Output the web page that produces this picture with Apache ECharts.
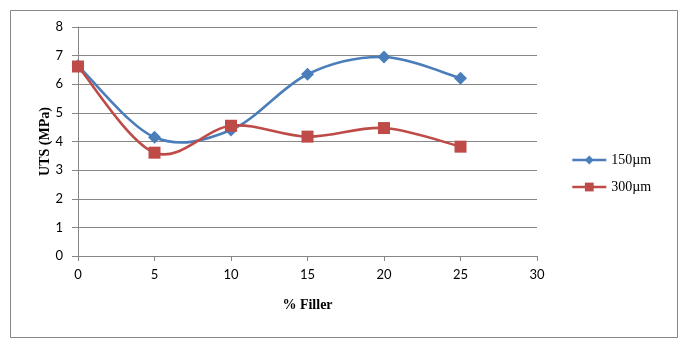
<!DOCTYPE html>
<html><head><meta charset="utf-8">
<script src="https://cdn.jsdelivr.net/npm/echarts@6/dist/echarts.min.js"></script>
<style>html,body{margin:0;padding:0;background:#fff}#c{width:681px;height:342px}</style>
</head><body><div id="c"></div>
<script>
var xValues = [0, 5, 10, 15, 20, 25];
var series150 = [6.65, 4.15, 4.4, 6.35, 6.95, 6.21];
var series300 = [6.62, 3.61, 4.55, 4.17, 4.47, 3.82];
var seriesNames = ['150µm', '300µm'];
var colors = ['#4A7EBB', '#BE4B48'];
var chart = echarts.init(document.getElementById('c'));
function pairs(v){ return xValues.map(function(x,i){return [x, v[i]];}); }
var tickFont = {fontFamily:'Lato, "Open Sans", sans-serif', fontSize:13, color:'#000'};
var gridColor = '#868686';

// Excel-like smoothed curve: cubic Bezier per segment (Catmull-Rom tangents)
function smoothRenderer(color){
  return function(params, api){
    var n = params.dataInsideLength;
    var i = params.dataIndexInside;
    if (i >= n - 1) return null;
    function pt(j){
      j = Math.max(0, Math.min(n - 1, j));
      return api.coord([api.value(0, j), api.value(1, j)]);
    }
    var p0 = pt(i - 1), p1 = pt(i), p2 = pt(i + 1), p3 = pt(i + 2);
    var t = 1 / 6;
    var c1 = [p1[0] + (p2[0] - p0[0]) * t, p1[1] + (p2[1] - p0[1]) * t];
    var c2 = [p2[0] - (p3[0] - p1[0]) * t, p2[1] - (p3[1] - p1[1]) * t];
    return {
      type:'bezierCurve',
      shape:{x1:p1[0], y1:p1[1], x2:p2[0], y2:p2[1], cpx1:c1[0], cpy1:c1[1], cpx2:c2[0], cpy2:c2[1]},
      style:{stroke:color, lineWidth:2.6, fill:null, lineCap:'round'},
      silent:true
    };
  };
}

chart.setOption({
  animation:false,
  backgroundColor:'#fff',
  graphic:[{type:'rect', left:8, top:8, shape:{width:667, height:327}, style:{fill:'none', stroke:'#868686', lineWidth:1}, silent:true}],
  grid:{left:78, right:144, top:27, bottom:86},
  legend:{
    orient:'vertical', left:566, top:148, itemGap:13, itemWidth:34, itemHeight:11,
    textStyle:{fontFamily:'"Liberation Serif", "Times New Roman", serif', fontSize:14, color:'#000'},
    data:[
      {name:seriesNames[0], lineStyle:{opacity:1, width:2.6, color:colors[0]}},
      {name:seriesNames[1], lineStyle:{opacity:1, width:2.6, color:colors[1]}}
    ]
  },
  xAxis:{
    type:'value', min:0, max:30, interval:5,
    name:'% Filler', nameLocation:'middle', nameGap:42, nameMoveOverlap:false,
    nameTextStyle:{fontFamily:'"Liberation Serif", serif', fontWeight:'bold', fontSize:14, color:'#000'},
    axisLine:{lineStyle:{color:gridColor}},
    axisTick:{show:true, length:5, lineStyle:{color:gridColor}},
    axisLabel:Object.assign({margin:12}, tickFont),
    splitLine:{show:false}
  },
  yAxis:{
    type:'value', min:0, max:8, interval:1,
    name:'UTS (MPa)', nameLocation:'middle', nameGap:26, nameRotate:90, nameMoveOverlap:false,
    nameTextStyle:{fontFamily:'"Liberation Serif", serif', fontWeight:'bold', fontSize:14, color:'#000'},
    axisLine:{show:true, lineStyle:{color:gridColor}},
    axisTick:{show:true, length:6, lineStyle:{color:gridColor}},
    axisLabel:Object.assign({margin:15}, tickFont),
    splitLine:{lineStyle:{color:gridColor}}
  },
  series:[
    {name:seriesNames[0]+'_curve', type:'custom', renderItem:smoothRenderer(colors[0]), data:pairs(series150), z:2, clip:false},
    {name:seriesNames[1]+'_curve', type:'custom', renderItem:smoothRenderer(colors[1]), data:pairs(series300), z:3, clip:false},
    {name:seriesNames[0], type:'line', data:pairs(series150), symbol:'diamond', symbolSize:13, z:4,
     lineStyle:{color:colors[0], width:0, opacity:0}, itemStyle:{color:colors[0]}},
    {name:seriesNames[1], type:'line', data:pairs(series300), symbol:'rect', symbolSize:12, z:5,
     lineStyle:{color:colors[1], width:0, opacity:0}, itemStyle:{color:colors[1]}}
  ]
});
</script></body></html>
